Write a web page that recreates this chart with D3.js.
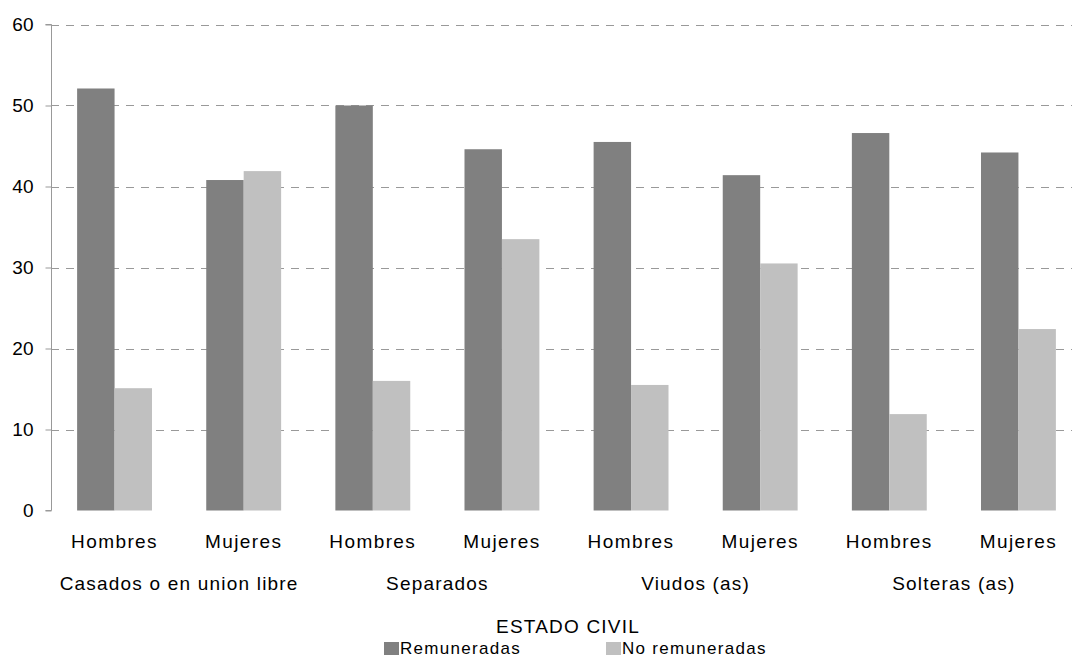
<!DOCTYPE html>
<html><head><meta charset="utf-8">
<script src="https://cdn.jsdelivr.net/npm/d3@7"></script>
<style>body{margin:0;background:#fff}svg{display:block}text{font-family:"Liberation Sans",Arial,sans-serif;fill:#000}</style>
</head><body>
<svg id="c" width="1072" height="658"></svg>
<script>
const groups = ["Casados o en union libre","Separados","Viudos (as)","Solteras (as)"];
const subcats = ["Hombres","Mujeres"];
const seriesNames = ["Remuneradas","No remuneradas"];
const remuneradas   = [52.1, 40.8, 50.0, 44.6, 45.5, 41.4, 46.6, 44.2];
const noRemuneradas = [15.1, 41.9, 16.0, 33.5, 15.5, 30.5, 11.9, 22.4];
const yTicks = [0,10,20,30,40,50,60];
const colors = ["#808080","#c0c0c0"];
const axisTitle = "ESTADO CIVIL";

const svg = d3.select("#c");
const x0 = 50, x1 = 1083, yTop = 24.5, yBot = 510.5;
const cats = [];
groups.forEach((g,gi)=>subcats.forEach((s,si)=>cats.push({g,s,i:gi*2+si})));
const x = d3.scaleBand().domain(cats.map(d=>d.i)).range([x0,x1]).paddingInner(0.42).paddingOuter(0.21);
const xs = d3.scaleBand().domain([0,1]).range([0,x.bandwidth()]);
const y = d3.scaleLinear().domain([0,60]).range([yBot,yTop]);

// gridlines
svg.append("g").selectAll("line").data(yTicks.filter(t=>t>0)).join("line")
  .attr("x1",51).attr("x2",x1).attr("y1",d=>Math.round(y(d))+0.5).attr("y2",d=>Math.round(y(d))+0.5)
  .attr("stroke","#999").attr("stroke-width",1).attr("stroke-dasharray","8,7");

// bars
const data = cats.map(c=>({c, vals:[remuneradas[c.i], noRemuneradas[c.i]]}));
const gb = svg.append("g");
data.forEach(d=>{
  d.vals.forEach((v,k)=>{
    gb.append("rect").attr("x",x(d.c.i)+xs(k)).attr("width",xs.bandwidth())
      .attr("y",y(v)).attr("height",y(0)-y(v)).attr("fill",colors[k]);
  });
});

// y axis
const ya = d3.axisLeft(y).tickValues(yTicks).tickSize(6).tickPadding(12).tickFormat(d3.format("d"));
const gy = svg.append("g").attr("transform","translate(51.5,0)").call(ya);
gy.select(".domain").attr("stroke","#999").attr("d",`M-6,${y(60)}H0V${y(0)}H-6`);
gy.selectAll(".tick line").attr("stroke","#999");
gy.selectAll(".tick text").attr("font-size",19).style("font-family","'Liberation Sans',Arial,sans-serif").attr("fill","#000");

// subcategory labels
svg.append("g").selectAll("text").data(cats).join("text")
  .attr("x",d=>x(d.i)+x.bandwidth()/2).attr("y",548).attr("text-anchor","middle")
  .attr("font-size",19).attr("letter-spacing","1.4").text(d=>d.s);
// group labels
svg.append("g").selectAll("text").data(groups).join("text")
  .attr("x",(d,i)=>(x(i*2)+x(i*2+1)+x.bandwidth())/2).attr("y",590).attr("text-anchor","middle")
  .attr("font-size",19).attr("letter-spacing","1.2").text(d=>d);
// axis title
svg.append("text").attr("x",568).attr("y",633).attr("text-anchor","middle").attr("font-size",19).attr("letter-spacing","1.2").text(axisTitle);

// legend
const legX = [384, 606];
const lg = svg.append("g");
seriesNames.forEach((n,k)=>{
  lg.append("rect").attr("x",legX[k]).attr("y",642).attr("width",15).attr("height",13).attr("fill",colors[k]);
  lg.append("text").attr("x",legX[k]+16).attr("y",654).attr("font-size",17).attr("letter-spacing","1.3").text(n);
});
</script>
</body></html>
